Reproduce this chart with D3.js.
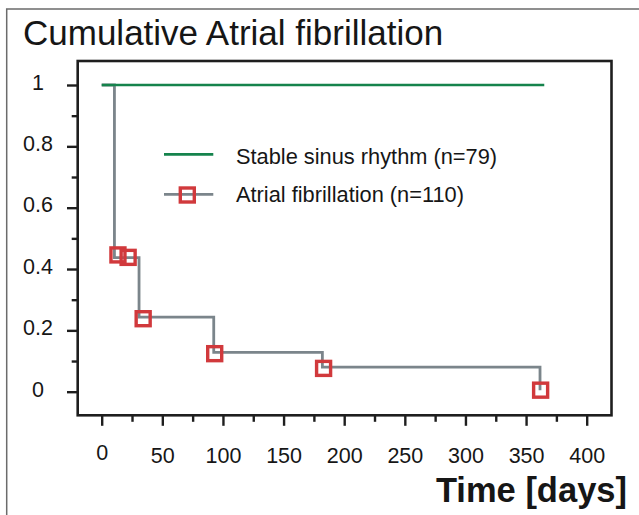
<!DOCTYPE html>
<html>
<head>
<meta charset="utf-8">
<script src="https://cdn.jsdelivr.net/npm/d3@7"></script>
<style>
  html, body { margin: 0; padding: 0; background: #fff; }
  svg { display: block; font-family: "Liberation Sans", Arial, Helvetica, sans-serif; }
</style>
</head>
<body>
<svg id="chart" width="639" height="515"></svg>
<script>
// ---- data ----
const title = "Cumulative Atrial fibrillation";
const xLabel = "Time [days]";
const xTicks = [0, 50, 100, 150, 200, 250, 300, 350, 400];
const xMinorTicks = [25, 75, 125, 175, 225, 275, 325, 375];
const yTicks = [0, 0.2, 0.4, 0.6, 0.8, 1];
const yMinorTicks = [0.1, 0.3, 0.5, 0.7, 0.9];

const seriesNames = ["Stable sinus rhythm (n=79)", "Atrial fibrillation (n=110)"];
const stableDays = [0, 365];
const stableValues = [1, 1];
const afStepDays = [0, 10.5, 30.8, 92.4, 182, 361.5];
const afStepValues = [1, 0.437, 0.243, 0.128, 0.08, 0.005];
const afMarkerDays = [13.4, 21.8, 34.2, 93.2, 183, 362];
const afMarkerValues = [0.446, 0.438, 0.238, 0.124, 0.076, 0.005];

// ---- layout ----
const svg = d3.select("#chart");
const frame = { left: 77.7, right: 611.5, top: 61, bottom: 415.3 };
const x = d3.scaleLinear().domain([0, 400]).range([101.7, 586.7]);
const y = d3.scaleLinear().domain([0, 1]).range([391.7, 85]);

const green = "#15834c";
const grey = "#7b858b";
const red = "#d1393c";
const ink = "#1e1e1e";
const textInk = "#161616";
const tickFont = 21.5;

// outer frame (extends beyond right/bottom edge)
svg.append("path")
  .attr("d", `M6.7,520 L6.7,9 L645,9`)
  .attr("fill", "none").attr("stroke", "#6b6b6b").attr("stroke-width", 1.5);

// title
svg.append("text")
  .attr("x", 23).attr("y", 45)
  .attr("font-size", 35).attr("fill", textInk)
  .text(title);

// y axis
const yAxis = svg.append("g").attr("transform", `translate(${frame.left},0)`)
  .call(d3.axisLeft(y).tickValues(yTicks).tickSize(10.7).tickSizeOuter(0).tickFormat(d3.format("~g")));
const yMinor = svg.append("g").attr("transform", `translate(${frame.left},0)`)
  .call(d3.axisLeft(y).tickValues(yMinorTicks).tickSize(6).tickSizeOuter(0).tickFormat(""));
[yAxis, yMinor].forEach(g => {
  g.select(".domain").remove();
  g.selectAll(".tick line").attr("stroke", ink).attr("stroke-width", 2.4);
});
yAxis.attr("font-size", tickFont).attr("font-family", "Liberation Sans, Arial, sans-serif");
yAxis.selectAll(".tick text")
  .attr("x", 38 - frame.left).attr("text-anchor", "middle").attr("dy", "0.2em")
  .attr("font-size", tickFont).attr("fill", textInk);

// x axis
const xAxis = svg.append("g").attr("transform", `translate(0,${frame.bottom})`)
  .call(d3.axisBottom(x).tickValues(xTicks).tickSize(10.5).tickSizeOuter(0).tickFormat(d3.format("d")));
const xMinor = svg.append("g").attr("transform", `translate(0,${frame.bottom})`)
  .call(d3.axisBottom(x).tickValues(xMinorTicks).tickSize(6.5).tickSizeOuter(0).tickFormat(""));
[xAxis, xMinor].forEach(g => {
  g.select(".domain").remove();
  g.selectAll(".tick line").attr("stroke", ink).attr("stroke-width", 2.4);
});
xAxis.attr("font-size", tickFont).attr("font-family", "Liberation Sans, Arial, sans-serif");
xAxis.selectAll(".tick text")
  .attr("y", 0).attr("dy", 0)
  .attr("transform", d => `translate(0,${d === 0 ? 460 - frame.bottom : 462.5 - frame.bottom})`)
  .attr("font-size", tickFont).attr("fill", textInk);

// plot frame
svg.append("rect")
  .attr("x", frame.left).attr("y", frame.top)
  .attr("width", frame.right - frame.left).attr("height", frame.bottom - frame.top)
  .attr("fill", "none").attr("stroke", ink).attr("stroke-width", 2.6);

// x label
svg.append("text")
  .attr("x", 627).attr("y", 502).attr("text-anchor", "end")
  .attr("font-size", 34.5).attr("font-weight", "bold").attr("fill", textInk)
  .text(xLabel);

// series
const stableData = stableDays.map((d, i) => [d, stableValues[i]]);
const afStepData = afStepDays.map((d, i) => [d, afStepValues[i]]);
const afMarkers = afMarkerDays.map((d, i) => [d, afMarkerValues[i]]);

const stepLine = d3.line().x(d => x(d[0])).y(d => y(d[1])).curve(d3.curveStepAfter);
const straight = d3.line().x(d => x(d[0])).y(d => y(d[1]));

svg.append("path").datum(afStepData)
  .attr("d", stepLine)
  .attr("fill", "none").attr("stroke", grey).attr("stroke-width", 2.8);

svg.append("path").datum(stableData)
  .attr("d", straight)
  .attr("fill", "none").attr("stroke", green).attr("stroke-width", 2.6);

const sq = 14;
svg.append("g").selectAll("rect").data(afMarkers).join("rect")
  .attr("x", d => x(d[0]) - sq / 2).attr("y", d => y(d[1]) - sq / 2)
  .attr("width", sq).attr("height", sq)
  .attr("fill", "none").attr("stroke", red).attr("stroke-width", 3.4);

// legend
const legend = svg.append("g");
legend.append("line").attr("x1", 164).attr("x2", 213.3).attr("y1", 154.3).attr("y2", 154.3)
  .attr("stroke", green).attr("stroke-width", 2.8);
legend.append("text").attr("x", 236).attr("y", 164.3).attr("font-size", 21.8).attr("fill", textInk)
  .text(seriesNames[0]);
legend.append("line").attr("x1", 164).attr("x2", 213.3).attr("y1", 194.3).attr("y2", 194.3)
  .attr("stroke", grey).attr("stroke-width", 2.8);
legend.append("rect").attr("x", 187.3 - sq / 2).attr("y", 195 - sq / 2).attr("width", sq).attr("height", sq)
  .attr("fill", "none").attr("stroke", red).attr("stroke-width", 3.4);
legend.append("text").attr("x", 236).attr("y", 201.7).attr("font-size", 21.8).attr("fill", textInk)
  .text(seriesNames[1]);
</script>
</body>
</html>
